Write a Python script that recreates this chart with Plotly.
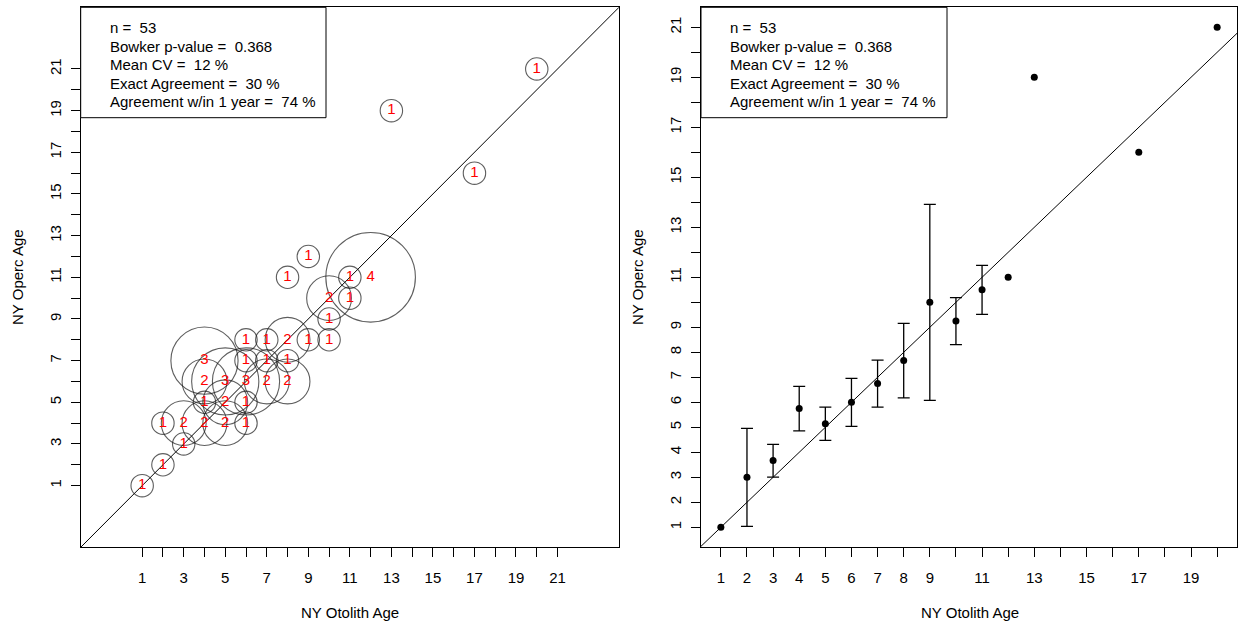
import plotly.graph_objects as go

# ---------------- data ----------------
# Left panel: age pairs (otolith, operc) and number of fish at each pair
bub_otolith = [1, 2, 2, 3, 3, 4, 4, 4, 4, 5, 5, 5, 6, 6, 6, 6, 6, 7, 7, 7, 8, 8, 8, 8,
               9, 9, 10, 10, 10, 11, 11, 12, 13, 17, 20]
bub_operc = [1, 2, 4, 3, 4, 4, 5, 6, 7, 4, 5, 6, 4, 5, 6, 7, 8, 6, 7, 8, 6, 7, 8, 11,
             8, 12, 8, 9, 10, 10, 11, 11, 19, 16, 21]
bub_count = [1, 1, 1, 1, 2, 2, 1, 2, 3, 2, 2, 3, 1, 1, 3, 1, 1, 2, 1, 1, 2, 1, 2, 1,
             1, 1, 1, 1, 2, 1, 1, 4, 1, 1, 1]

# Right panel: mean operc age per otolith age with 95% CI
mean_otolith = [1, 2, 3, 4, 5, 6, 7, 8, 9, 10, 11, 12, 13, 17, 20]
mean_operc = [1, 3, 3.67, 5.75, 5.14, 6, 6.75, 7.67, 10, 9.25, 10.5, 11, 19, 16, 21]
ci_otolith = [2, 3, 4, 5, 6, 7, 8, 9, 10, 11]
ci_mean = [3, 3.67, 5.75, 5.14, 6, 6.75, 7.67, 10, 9.25, 10.5]
ci_low = [1.04, 3.01, 4.86, 4.48, 5.04, 5.81, 6.18, 6.08, 8.31, 9.52]
ci_high = [4.96, 4.32, 6.64, 5.81, 6.96, 7.69, 9.16, 13.92, 10.19, 11.48]

left_ticks = list(range(1, 22))
left_labels = [str(v) if v % 2 == 1 else "" for v in left_ticks]
right_xticks = list(range(1, 21))
right_xlabels = [str(v) if (v <= 9 or v % 2 == 1) else "" for v in right_xticks]
right_yticks = list(range(1, 22))
right_ylabels = [str(v) if (v <= 9 or v % 2 == 1) else "" for v in right_yticks]

stats_lines = ["n =\u00a0 53", "Bowker p-value =\u00a0 0.368", "Mean CV =\u00a0 12 %",
               "Exact Agreement =\u00a0 30 %", "Agreement w/in 1 year =\u00a0 74 %"]

one_to_one = [-5, 30]

# ---------------- figure ----------------
W, H = 1238, 625
FONT = "Liberation Sans, Arial, sans-serif"
fig = go.Figure()

# left 1:1 line
fig.add_trace(go.Scatter(x=one_to_one, y=one_to_one, mode="lines",
                         line=dict(color="black", width=1), xaxis="x", yaxis="y",
                         showlegend=False, hoverinfo="skip"))
# bubbles
px_per_count = 22.4
fig.add_trace(go.Scatter(
    x=bub_otolith, y=bub_operc, mode="markers+text",
    text=[str(c) for c in bub_count], textposition="middle center",
    textfont=dict(color="red", size=15, family=FONT),
    marker=dict(symbol="circle-open", size=[c * px_per_count for c in bub_count],
                color="#1a1a1a", line=dict(width=1.1), sizemode="diameter"),
    xaxis="x", yaxis="y", showlegend=False, cliponaxis=False))

# right 1:1 line
fig.add_trace(go.Scatter(x=one_to_one, y=one_to_one, mode="lines",
                         line=dict(color="black", width=1), xaxis="x2", yaxis="y2",
                         showlegend=False, hoverinfo="skip"))
# CI bars
fig.add_trace(go.Scatter(
    x=ci_otolith, y=ci_mean, mode="markers",
    marker=dict(size=1, color="black"),
    error_y=dict(type="data", symmetric=False,
                 array=[h - m for h, m in zip(ci_high, ci_mean)],
                 arrayminus=[m - l for m, l in zip(ci_mean, ci_low)],
                 color="black", thickness=1.3, width=6),
    xaxis="x2", yaxis="y2", showlegend=False))
# means
fig.add_trace(go.Scatter(x=mean_otolith, y=mean_operc, mode="markers",
                         marker=dict(size=7, color="black"),
                         xaxis="x2", yaxis="y2", showlegend=False))

ydom = [(H - 547.3) / H, (H - 7.3) / H]
axis_common = dict(showgrid=False, zeroline=False, showline=True, mirror=True,
                   linecolor="black", linewidth=1, ticks="outside", ticklen=9,
                   tickcolor="black", tickwidth=1,
                   tickfont=dict(family=FONT, size=15, color="black"))

fig.update_layout(
    width=W, height=H, margin=dict(l=0, r=0, t=0, b=0),
    paper_bgcolor="white", plot_bgcolor="white",
    font=dict(family=FONT, size=15, color="black"),
    xaxis=dict(domain=[80.7 / W, 619 / W], range=[-1.96, 23.96], tickmode="array",
               tickvals=left_ticks, ticktext=left_labels, anchor="y",
               ticklabelstandoff=8, **axis_common),
    yaxis=dict(domain=ydom, range=[-1.96, 23.96], tickmode="array",
               tickvals=left_ticks, ticktext=left_labels, tickangle=-90, anchor="x",
               ticklabelstandoff=4, **axis_common),
    xaxis2=dict(domain=[701 / W, 1237 / W], range=[0.24, 20.76], tickmode="array",
                tickvals=right_xticks, ticktext=right_xlabels, anchor="y2",
                ticklabelstandoff=8, **axis_common),
    yaxis2=dict(domain=ydom, range=[0.2, 21.8], tickmode="array",
                tickvals=right_yticks, ticktext=right_ylabels, tickangle=-90, anchor="x2",
                ticklabelstandoff=4, **axis_common),
)

shapes = []
annotations = []
for x0, x1, tx in [(80.7, 326, 108.3), (701, 947, 728.3)]:
    shapes.append(dict(type="rect", xref="paper", yref="paper",
                       x0=x0 / W, x1=x1 / W, y0=1 - 117.7 / H, y1=1 - 7.3 / H,
                       line=dict(color="black", width=1), fillcolor="white", layer="above"))
    for i, line in enumerate(stats_lines):
        yc = 27.7 + i * 18.5
        annotations.append(dict(text=line, xref="paper", yref="paper", x=tx / W,
                                y=1 - yc / H, xanchor="left", yanchor="middle",
                                showarrow=False, font=dict(size=15, family=FONT)))
for xc in [350, 970]:
    annotations.append(dict(text="NY Otolith Age", xref="paper", yref="paper",
                            x=xc / W, y=1 - 612 / H, xanchor="center", yanchor="middle",
                            showarrow=False, font=dict(size=15, family=FONT)))
for xc in [17, 637]:
    annotations.append(dict(text="NY Operc Age", xref="paper", yref="paper",
                            x=xc / W, y=1 - 277 / H, xanchor="center", yanchor="middle",
                            textangle=-90, showarrow=False, font=dict(size=15, family=FONT)))
fig.update_layout(shapes=shapes, annotations=annotations)

fig.write_html("out.html")
